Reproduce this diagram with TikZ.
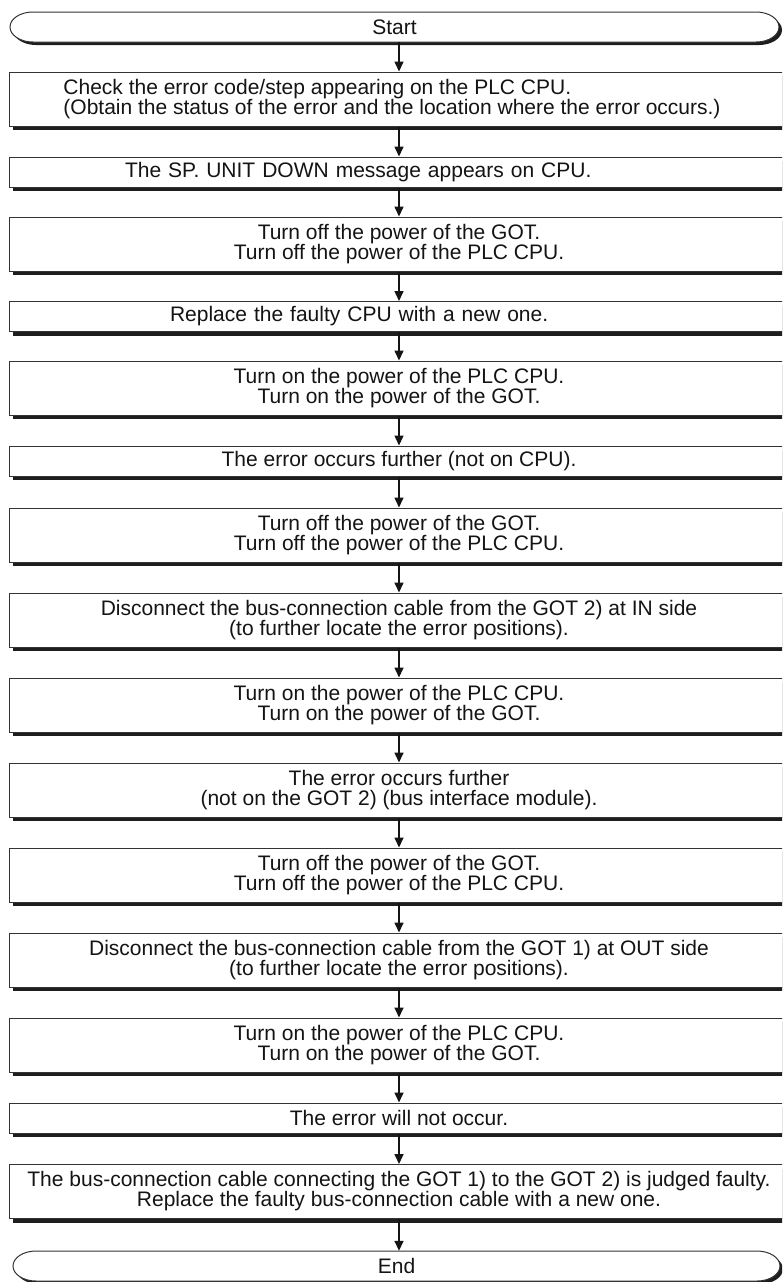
\documentclass[tikz,border=0pt]{standalone}
\usepackage{fontspec}
\setmainfont{Liberation Sans}
\usetikzlibrary{arrows.meta,shadows}
\definecolor{linec}{HTML}{333333}
\definecolor{shadowc}{HTML}{1E1E1E}
\definecolor{textc}{HTML}{141414}
\tikzset{
  every node/.style={font=\fontsize{21}{20}\selectfont, text=textc},
  procbox/.style={draw=linec, line width=1pt, fill=white, minimum width=780pt,
    inner sep=0pt, align=center,
    drop shadow={shadow xshift=4pt, shadow yshift=-4pt, fill=shadowc, opacity=1}},
  twoline/.style={minimum height=54pt},
  oneline/.style={minimum height=30pt},
  termtext/.style={inner sep=0pt, minimum height=30pt},
  termline/.style={fill=white, draw=linec, line width=1pt},
  arr/.style={draw=textc, line width=1.6pt, -{Triangle[length=10pt,width=9pt]}},
}
\begin{document}
\begin{tikzpicture}[x=1pt,y=1pt]
\useasboundingbox (0,0) rectangle (782,-1282);
\begin{scope}
\clip (0,0) rectangle (782,-1282);
% Start terminal
\fill[shadowc] (36,-15) -- (759,-15) arc[start angle=90,end angle=-90,x radius=23,y radius=15]
  -- (36,-45) arc[start angle=270,end angle=90,x radius=23,y radius=15] -- cycle;
\filldraw[termline] (33,-12) -- (756,-12) arc[start angle=90,end angle=-90,x radius=23,y radius=15]
  -- (33,-42) arc[start angle=270,end angle=90,x radius=23,y radius=15] -- cycle;
\node[termtext, minimum width=769pt] (s) at (394.5,-27) {Start};

\node[procbox, twoline, align=left] (b1) at (399,-99)
  {Check the error code/step appearing on the PLC CPU.\\(Obtain the status of the error and the location where the error occurs.)\hspace*{14pt}};
\node[procbox, oneline, align=left, inner xsep=116pt, text width=548pt] (b2) at (399,-172)
  {The SP. UNIT DOWN message appears on CPU.};
\node[procbox, twoline] (b3) at (399,-244)
  {Turn off the power of the GOT.\\Turn off the power of the PLC CPU.};
\node[procbox, oneline, align=left, inner xsep=161pt, text width=458pt] (b4) at (399,-316.5)
  {Replace the faulty CPU with a new one.};
\node[procbox, twoline] (b5) at (399,-388)
  {Turn on the power of the PLC CPU.\\Turn on the power of the GOT.};
\node[procbox, oneline] (b6) at (399,-461)
  {The error occurs further (not on CPU).};
\node[procbox, twoline] (b7) at (399,-535)
  {Turn off the power of the GOT.\\Turn off the power of the PLC CPU.};
\node[procbox, twoline] (b8) at (399,-620)
  {Disconnect the bus-connection cable from the GOT 2) at IN side\\(to further locate the error positions).};
\node[procbox, twoline] (b9) at (399,-705)
  {Turn on the power of the PLC CPU.\\Turn on the power of the GOT.};
\node[procbox, twoline] (b10) at (399,-790)
  {The error occurs further\\(not on the GOT 2) (bus interface module).};
\node[procbox, twoline] (b11) at (399,-875)
  {Turn off the power of the GOT.\\Turn off the power of the PLC CPU.};
\node[procbox, twoline] (b12) at (399,-960)
  {Disconnect the bus-connection cable from the GOT 1) at OUT side\\(to further locate the error positions).};
\node[procbox, twoline] (b13) at (399,-1045)
  {Turn on the power of the PLC CPU.\\Turn on the power of the GOT.};
\node[procbox, oneline] (b14) at (399,-1118)
  {The error will not occur.};
\node[procbox, twoline] (b15) at (399,-1191.5)
  {The bus-connection cable connecting the GOT 1) to the GOT 2) is judged faulty.\\Replace the faulty bus-connection cable with a new one.};

% End terminal
\fill[shadowc] (39,-1254) -- (760,-1254) arc[start angle=90,end angle=-90,x radius=23,y radius=15]
  -- (39,-1284) arc[start angle=270,end angle=90,x radius=23,y radius=15] -- cycle;
\filldraw[termline] (36,-1251) -- (757,-1251) arc[start angle=90,end angle=-90,x radius=23,y radius=15]
  -- (36,-1281) arc[start angle=270,end angle=90,x radius=23,y radius=15] -- cycle;
\node[termtext, minimum width=767pt] (e) at (396.5,-1266) {End};

% connectors
\draw[arr] (b1.north |- s.south) -- (b1.north);
\draw[arr] (b1.south) -- (b2.north);
\draw[arr] (b2.south) -- (b3.north);
\draw[arr] (b3.south) -- (b4.north);
\draw[arr] (b4.south) -- (b5.north);
\draw[arr] (b5.south) -- (b6.north);
\draw[arr] (b6.south) -- (b7.north);
\draw[arr] (b7.south) -- (b8.north);
\draw[arr] (b8.south) -- (b9.north);
\draw[arr] (b9.south) -- (b10.north);
\draw[arr] (b10.south) -- (b11.north);
\draw[arr] (b11.south) -- (b12.north);
\draw[arr] (b12.south) -- (b13.north);
\draw[arr] (b13.south) -- (b14.north);
\draw[arr] (b14.south) -- (b15.north);
\draw[arr] (b15.south) -- (b15.south |- e.north);
\end{scope}
\end{tikzpicture}
\end{document}
